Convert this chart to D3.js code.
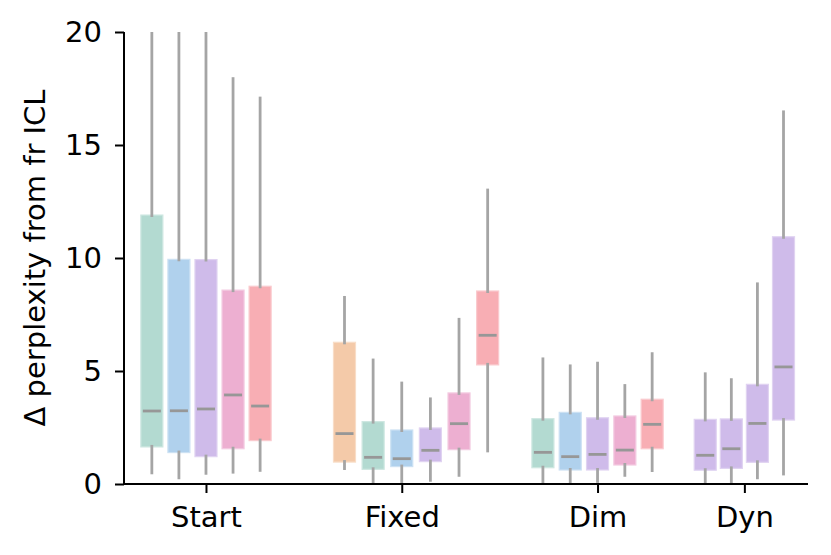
<!DOCTYPE html>
<html>
<head>
<meta charset="utf-8">
<script src="https://cdn.jsdelivr.net/npm/d3@7"></script>
<style>
  body { margin: 0; background: #fff; }
  text { font-family: "DejaVu Sans", sans-serif; fill: #000; }
</style>
</head>
<body>
<svg id="chart" width="831" height="555"></svg>
<script>
// groups shown on the x axis
const categories = ["Start", "Fixed", "Dim", "Dyn"];

// each box: [lower whisker, q1, median, q3, upper whisker]
const startBoxes = [
    [0.43, 1.64, 3.23, 11.9, 26.0],
    [0.21, 1.39, 3.24, 9.94, 24.0],
    [0.41, 1.21, 3.32, 9.93, 23.0],
    [0.46, 1.56, 3.94, 8.58, 18.0],
    [0.54, 1.92, 3.45, 8.75, 17.14]
];
const fixedBoxes = [
    [0.62, 0.97, 2.23, 6.27, 8.32],
    [0.0, 0.65, 1.18, 2.76, 5.55],
    [0.0, 0.77, 1.12, 2.39, 4.53],
    [0.1, 0.99, 1.49, 2.48, 3.83],
    [0.32, 1.52, 2.67, 4.03, 7.35],
    [1.40, 5.27, 6.58, 8.54, 13.07]
];
const dimBoxes = [
    [0.0, 0.72, 1.40, 2.89, 5.60],
    [0.0, 0.62, 1.21, 3.17, 5.29],
    [0.05, 0.62, 1.31, 2.93, 5.41],
    [0.32, 0.84, 1.50, 3.01, 4.42],
    [0.53, 1.56, 2.64, 3.75, 5.83]
];
const dynBoxes = [
    [0.0, 0.61, 1.27, 2.86, 4.94],
    [0.0, 0.69, 1.56, 2.88, 4.68],
    [0.21, 0.96, 2.68, 4.41, 8.92],
    [0.38, 2.83, 5.18, 10.94, 16.53]
];

// which method each box belongs to (drives the colour)
const startMethods = ["m1", "m2", "m3", "m4", "m5"];
const fixedMethods = ["m0", "m1", "m2", "m3", "m4", "m5"];
const dimMethods = ["m1", "m2", "m3", "m4", "m5"];
const dynMethods = ["m3", "m3", "m3", "m3"];

const yTicks = [0, 5, 10, 15, 20];

// ---- layout / style ----
const width = 831, height = 555;
const margin = {left: 124, top: 32, right: 23, bottom: 71};
const iw = width - margin.left - margin.right;
const ih = height - margin.top - margin.bottom;
const fontSize = 29;

const methodColor = {
    m0: "#f4caa9", m1: "#b3dad1", m2: "#b0d1ed",
    m3: "#cfbbea", m4: "#edafd1", m5: "#f8aeb4"
};
const groupPos = [2, 6, 10, 13];          // x position of each group tick
const groupStep = [0.553, 0.585, 0.558, 0.533];
const groupAnchor = [2, 2, 2, 1.5];        // box index that sits on the tick
const boxWidth = 0.45;

const groups = [
    {name: categories[0], boxes: startBoxes, methods: startMethods},
    {name: categories[1], boxes: fixedBoxes, methods: fixedMethods},
    {name: categories[2], boxes: dimBoxes, methods: dimMethods},
    {name: categories[3], boxes: dynBoxes, methods: dynMethods}
];

let boxes = [];
groups.forEach(function(g, gi) {
    g.boxes.forEach(function(b, i) {
        boxes.push({
            pos: groupPos[gi] + (i - groupAnchor[gi]) * groupStep[gi],
            lo: b[0], q1: b[1], med: b[2], q3: b[3], hi: b[4],
            method: g.methods[i]
        });
    });
});

const x = d3.scaleLinear().domain([0.325, 14.3]).range([0, iw]);
const y = d3.scaleLinear().domain([0, 20]).range([ih, 0]);

const svg = d3.select("#chart");
const g = svg.append("g")
    .attr("transform", `translate(${margin.left},${margin.top})`);

g.append("clipPath").attr("id", "plot-clip")
    .append("rect").attr("x", 0).attr("y", 0).attr("width", iw).attr("height", ih);

const plot = g.append("g").attr("clip-path", "url(#plot-clip)");
const bw = x(boxWidth) - x(0);
const whiskerColor = "#a5a5a5";

let items = plot.selectAll(".box").data(boxes).enter()
    .append("g").attr("class", "box");

items.append("rect")
    .attr("x", d => x(d.pos) - bw / 2)
    .attr("width", bw)
    .attr("y", d => y(d.q3))
    .attr("height", d => y(d.q1) - y(d.q3))
    .attr("fill", d => methodColor[d.method])
    .attr("stroke", d => d3.interpolateRgb(methodColor[d.method], "#fff")(0.35))
    .attr("stroke-width", 1.2);

items.append("line")
    .attr("x1", d => x(d.pos)).attr("x2", d => x(d.pos))
    .attr("y1", d => y(d.q3) + 2).attr("y2", d => y(d.hi))
    .attr("stroke", whiskerColor).attr("stroke-width", 2.8);

items.append("line")
    .attr("x1", d => x(d.pos)).attr("x2", d => x(d.pos))
    .attr("y1", d => y(d.q1) - 2).attr("y2", d => y(d.lo))
    .attr("stroke", whiskerColor).attr("stroke-width", 2.8);

items.append("line")
    .attr("x1", d => x(d.pos) - bw / 2 + 2).attr("x2", d => x(d.pos) + bw / 2 - 2)
    .attr("y1", d => y(d.med)).attr("y2", d => y(d.med))
    .attr("stroke", "#979797").attr("stroke-width", 2.8);

// axes
const yAxis = g.append("g")
    .call(d3.axisLeft(y).tickValues(yTicks).tickSize(9).tickPadding(13));
const xAxis = g.append("g")
    .attr("transform", `translate(0,${ih})`)
    .call(d3.axisBottom(x).tickValues(groupPos).tickFormat((d, i) => categories[i])
        .tickSize(9).tickPadding(13));

[xAxis, yAxis].forEach(function(a) {
    a.select(".domain").attr("stroke", "#000").attr("stroke-width", 2);
    a.selectAll(".tick line").attr("stroke", "#000").attr("stroke-width", 2);
    a.selectAll(".tick text").attr("font-size", fontSize).attr("font-family", "DejaVu Sans");
});
yAxis.select(".domain").attr("d", `M0,${ih + 1}V0`);
xAxis.select(".domain").attr("d", `M-1,0H${iw}`);

g.append("text")
    .attr("transform", `translate(-79,${ih / 2}) rotate(-90)`)
    .attr("text-anchor", "middle")
    .attr("font-size", fontSize)
    .text("Δ perplexity from fr ICL");
</script>
</body>
</html>
